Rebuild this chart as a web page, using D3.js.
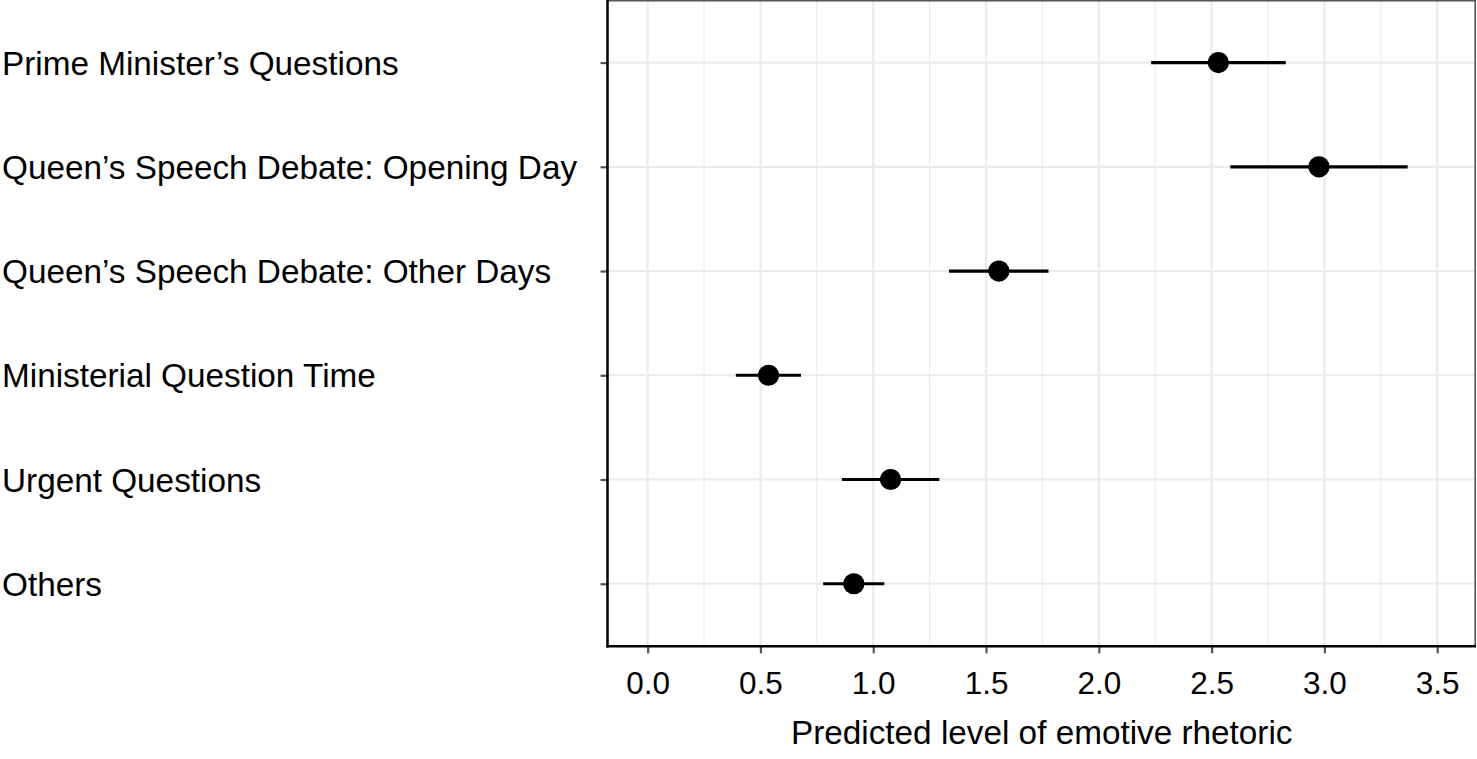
<!DOCTYPE html>
<html><head><meta charset="utf-8">
<script src="https://cdn.jsdelivr.net/npm/d3@7"></script>
<style>
html,body{margin:0;padding:0;background:#fff;}
svg{display:block;}
text{font-family:"Liberation Sans",Arial,Helvetica,sans-serif;fill:#000;}
</style></head>
<body>
<svg id="chart" width="1477" height="759"></svg>
<script>
const categories = ["Prime Minister\u2019s Questions","Queen\u2019s Speech Debate: Opening Day","Queen\u2019s Speech Debate: Other Days","Ministerial Question Time","Urgent Questions","Others"];
const estimates = [2.53, 2.976, 1.557, 0.536, 1.077, 0.914];
const lower = [2.232, 2.583, 1.336, 0.391, 0.861, 0.778];
const upper = [2.829, 3.369, 1.777, 0.680, 1.293, 1.049];
const xTicks = [0, 0.5, 1, 1.5, 2, 2.5, 3, 3.5];
const xMinor = [0.25, 0.75, 1.25, 1.75, 2.25, 2.75, 3.25];
const xTitle = "Predicted level of emotive rhetoric";

const svg = d3.select("#chart");
const L = 607.5, R = 1476, T = 0, B = 646.3;
const x = d3.scaleLinear().domain([-0.178, 3.672]).range([L, R]);
const y = d3.scalePoint().domain(categories).range([T, B]).padding(0.6);

// gridlines
const g = svg.append("g");
g.selectAll(".minor").data(xMinor).join("line")
  .attr("x1", d => x(d)).attr("x2", d => x(d)).attr("y1", T).attr("y2", B)
  .attr("stroke", "#ebebeb").attr("stroke-width", 1.1);
g.selectAll(".major").data(xTicks).join("line")
  .attr("x1", d => x(d)).attr("x2", d => x(d)).attr("y1", T).attr("y2", B)
  .attr("stroke", "#ebebeb").attr("stroke-width", 2.2);
g.selectAll(".hmajor").data(categories).join("line")
  .attr("x1", L).attr("x2", R).attr("y1", d => y(d)).attr("y2", d => y(d))
  .attr("stroke", "#ebebeb").attr("stroke-width", 2.2);

// panel border (top/right)
svg.append("line").attr("x1", L).attr("x2", R).attr("y1", 0.8).attr("y2", 0.8).attr("stroke", "#555").attr("stroke-width", 1.6);
svg.append("line").attr("x1", R - 0.8).attr("x2", R - 0.8).attr("y1", T).attr("y2", B).attr("stroke", "#555").attr("stroke-width", 1.6);

// error bars and points
const data = categories.map((c, i) => ({c, est: estimates[i], lo: lower[i], hi: upper[i]}));
svg.append("g").selectAll("line").data(data).join("line")
  .attr("x1", d => x(d.lo)).attr("x2", d => x(d.hi))
  .attr("y1", d => y(d.c)).attr("y2", d => y(d.c))
  .attr("stroke", "#000").attr("stroke-width", 3.2);
svg.append("g").selectAll("circle").data(data).join("circle")
  .attr("cx", d => x(d.est)).attr("cy", d => y(d.c)).attr("r", 10.6).attr("fill", "#000");

// x axis
const xAxis = d3.axisBottom(x).tickValues(xTicks).tickFormat(d3.format(".1f")).tickSize(7).tickPadding(18);
const xa = svg.append("g").attr("transform", `translate(0,${B})`).call(xAxis);
xa.select(".domain").remove();
xa.selectAll(".tick line").attr("stroke", "#555").attr("stroke-width", 2.2);
xa.selectAll(".tick text").attr("font-size", 31.5).attr("fill", "#000")
  .attr("font-family", "'Liberation Sans',Arial,Helvetica,sans-serif");

// y axis
const yAxis = d3.axisLeft(y).tickSize(7).tickFormat("");
const ya = svg.append("g").attr("transform", `translate(${L},0)`).call(yAxis);
ya.select(".domain").remove();
ya.selectAll(".tick line").attr("stroke", "#555").attr("stroke-width", 2.2);
svg.append("g").selectAll("text").data(categories).join("text")
  .attr("x", 2).attr("y", d => y(d)).attr("dy", "0.36em")
  .attr("font-size", 33.3).text(d => d);

// axis lines
svg.append("line").attr("x1", L).attr("x2", L).attr("y1", T).attr("y2", B + 1.2).attr("stroke", "#000").attr("stroke-width", 2.5);
svg.append("line").attr("x1", L - 1.2).attr("x2", R).attr("y1", B).attr("y2", B).attr("stroke", "#000").attr("stroke-width", 2.5);

// x title
svg.append("text").attr("x", (L + R) / 2).attr("y", 744).attr("text-anchor", "middle")
  .attr("font-size", 33.3).text(xTitle);
</script>
</body></html>
